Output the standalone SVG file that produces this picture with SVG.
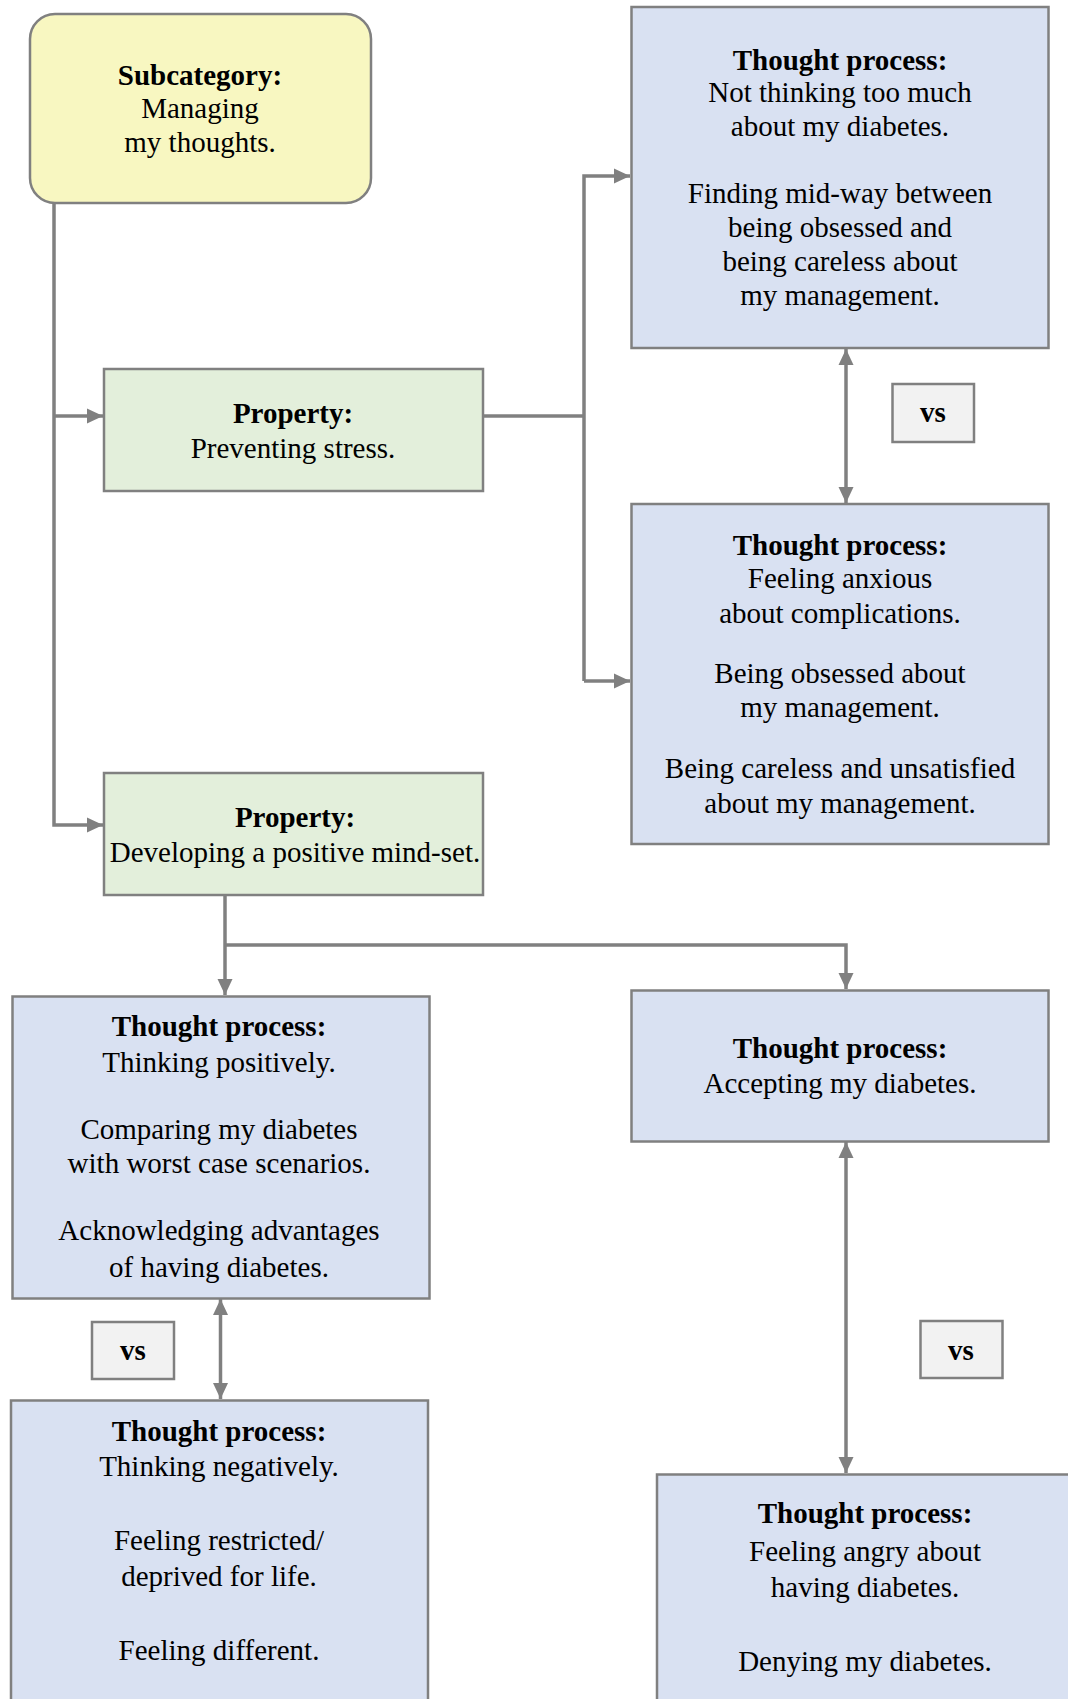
<svg xmlns="http://www.w3.org/2000/svg" width="1068" height="1699" viewBox="0 0 1068 1699">
  <style>
    .box { stroke: #808080; stroke-width: 2.5; }
    .sub { fill: #f8f7c1; }
    .prop { fill: #e3efdb; }
    .tp { fill: #d9e1f2; }
    .vs { fill: #f2f2f2; }
    text { font-family: "Liberation Serif", "Times New Roman", serif; font-size: 29px; fill: #000; text-anchor: middle; }
    .b { font-weight: bold; }
    .wire { fill: none; stroke: #808080; stroke-width: 3.5; }
  </style>
  <defs>
    <marker id="arrow" markerUnits="userSpaceOnUse" markerWidth="17" markerHeight="16" refX="16" refY="8" orient="auto-start-reverse" viewBox="0 0 17 16">
      <path d="M0,0.5 L16,8 L0,15.5 z" fill="#808080"/>
    </marker>
  </defs>

  <!-- connectors -->
  <g id="connectors">
    <path class="wire" d="M54,203 V825 H103" marker-end="url(#arrow)"/>
    <path class="wire" d="M54,416 H103" marker-end="url(#arrow)"/>
    <path class="wire" d="M483,416 H584"/>
    <path class="wire" d="M584,681 V176 H630" marker-end="url(#arrow)"/>
    <path class="wire" d="M584,681 H630" marker-end="url(#arrow)"/>
    <path class="wire" d="M846,349 V503" marker-start="url(#arrow)" marker-end="url(#arrow)"/>
    <path class="wire" d="M225,895 V995" marker-end="url(#arrow)"/>
    <path class="wire" d="M225,945 H846 V989" marker-end="url(#arrow)"/>
    <path class="wire" d="M220.5,1299 V1399" marker-start="url(#arrow)" marker-end="url(#arrow)"/>
    <path class="wire" d="M846,1142 V1473" marker-start="url(#arrow)" marker-end="url(#arrow)"/>
  </g>

  <!-- subcategory -->
  <g id="subcategory">
    <rect class="box sub" x="30" y="14" width="341" height="189" rx="25" ry="25"/>
    <text x="200" y="85" class="b">Subcategory:</text>
    <text x="200" y="118">Managing</text>
    <text x="200" y="152">my thoughts.</text>
  </g>

  <!-- properties -->
  <g id="property-stress">
    <rect class="box prop" x="104" y="369" width="379" height="122"/>
    <text x="293" y="423" class="b">Property:</text>
    <text x="293" y="458">Preventing stress.</text>
  </g>
  <g id="property-mindset">
    <rect class="box prop" x="104" y="773" width="379" height="122"/>
    <text x="295" y="827" class="b">Property:</text>
    <text x="295" y="862">Developing a positive mind-set.</text>
  </g>

  <!-- thought processes: preventing stress -->
  <g id="tp-not-thinking">
    <rect class="box tp" x="631.5" y="7" width="417" height="341"/>
    <text x="840" y="70" class="b">Thought process:</text>
    <text x="840" y="102">Not thinking too much</text>
    <text x="840" y="136">about my diabetes.</text>
    <text x="840" y="203">Finding mid-way between</text>
    <text x="840" y="237">being obsessed and</text>
    <text x="840" y="271">being careless about</text>
    <text x="840" y="305">my management.</text>
  </g>
  <g id="vs-stress">
    <rect class="box vs" x="892.5" y="384" width="81.5" height="58"/>
    <text x="933" y="422" class="b">vs</text>
  </g>
  <g id="tp-anxious">
    <rect class="box tp" x="631.5" y="504" width="417" height="340"/>
    <text x="840" y="555" class="b">Thought process:</text>
    <text x="840" y="588">Feeling anxious</text>
    <text x="840" y="623">about complications.</text>
    <text x="840" y="683">Being obsessed about</text>
    <text x="840" y="717">my management.</text>
    <text x="840" y="778">Being careless and unsatisfied</text>
    <text x="840" y="813">about my management.</text>
  </g>

  <!-- thought processes: positive mind-set -->
  <g id="tp-positive">
    <rect class="box tp" x="12.5" y="996.5" width="417" height="302"/>
    <text x="219" y="1036" class="b">Thought process:</text>
    <text x="219" y="1072">Thinking positively.</text>
    <text x="219" y="1139">Comparing my diabetes</text>
    <text x="219" y="1173">with worst case scenarios.</text>
    <text x="219" y="1240">Acknowledging advantages</text>
    <text x="219" y="1277">of having diabetes.</text>
  </g>
  <g id="vs-positive">
    <rect class="box vs" x="92" y="1322" width="82" height="57"/>
    <text x="133" y="1360" class="b">vs</text>
  </g>
  <g id="tp-negative">
    <rect class="box tp" x="11" y="1400.5" width="417" height="330"/>
    <text x="219" y="1441" class="b">Thought process:</text>
    <text x="219" y="1476">Thinking negatively.</text>
    <text x="219" y="1550">Feeling restricted/</text>
    <text x="219" y="1586">deprived for life.</text>
    <text x="219" y="1660">Feeling different.</text>
  </g>
  <g id="tp-accepting">
    <rect class="box tp" x="631.5" y="990.5" width="417" height="151"/>
    <text x="840" y="1058" class="b">Thought process:</text>
    <text x="840" y="1093">Accepting my diabetes.</text>
  </g>
  <g id="vs-accepting">
    <rect class="box vs" x="920.5" y="1321" width="82" height="57"/>
    <text x="961" y="1360" class="b">vs</text>
  </g>
  <g id="tp-angry">
    <rect class="box tp" x="657" y="1474.5" width="450" height="300"/>
    <text x="865" y="1523" class="b">Thought process:</text>
    <text x="865" y="1561">Feeling angry about</text>
    <text x="865" y="1597">having diabetes.</text>
    <text x="865" y="1671">Denying my diabetes.</text>
  </g>
</svg>
